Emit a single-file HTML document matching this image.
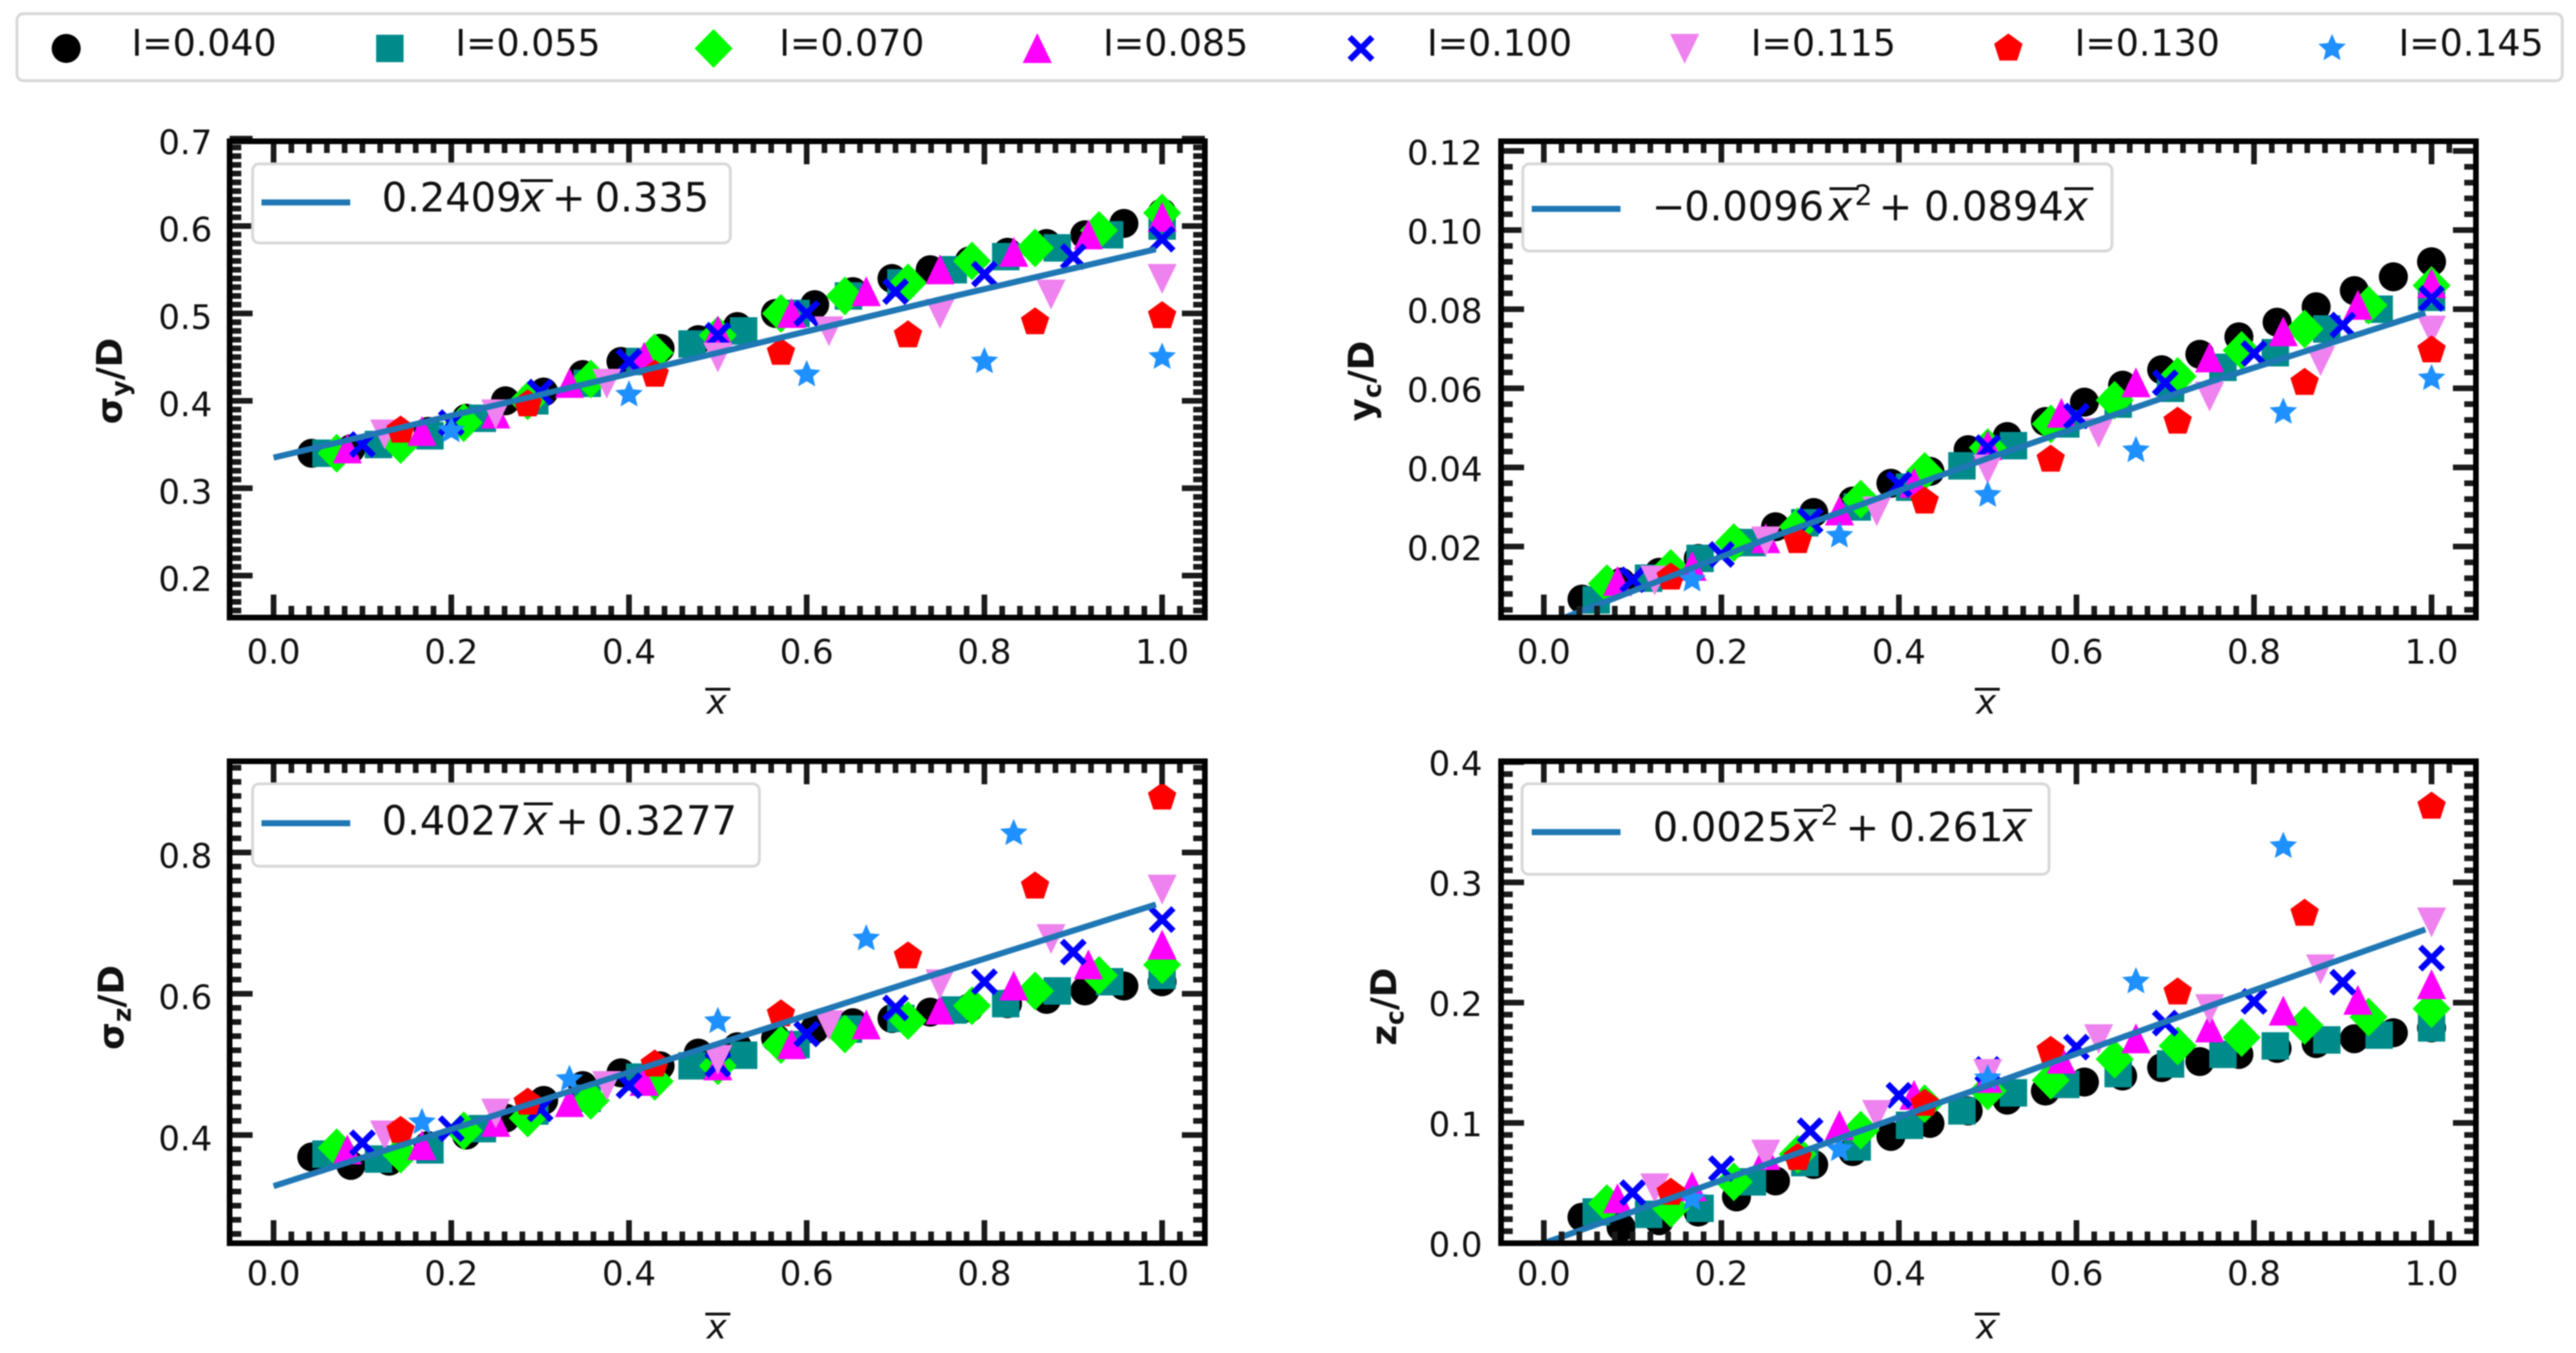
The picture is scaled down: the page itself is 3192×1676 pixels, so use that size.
<!DOCTYPE html>
<html lang="en">
<head>
<meta charset="utf-8">
<title>Wake scaling chart</title>
<style>
html,body{margin:0;padding:0;background:#fff;}
svg{display:block;filter:blur(0.8px);}
text{font-family:"DejaVu Sans","Liberation Sans",sans-serif;fill:#111;}
</style>
</head>
<body>
<svg id="chart" xmlns="http://www.w3.org/2000/svg" width="3192" height="1676" viewBox="0 0 3192 1676">
<rect x="0" y="0" width="3192" height="1676" fill="#fff"/>
<g id="plots"></g>

<g>
<rect x="21" y="17" width="3154" height="83" rx="8" fill="#fff" stroke="#d8d8d8" stroke-width="3.5"/>
<g id="topLegendEntries"></g>
</g>

<g font-size="44" font-weight="700">
<text transform="translate(151,472) rotate(-90)" text-anchor="middle" font-weight="700">σ<tspan font-size="31" dy="9">y</tspan><tspan dy="-9">/D</tspan></text>
<text transform="translate(1702,472) rotate(-90)" text-anchor="middle" font-weight="700">y<tspan font-size="31" dy="9">c</tspan><tspan dy="-9">/D</tspan></text>
<text transform="translate(153,1248) rotate(-90)" text-anchor="middle" font-weight="700">σ<tspan font-size="31" dy="9">z</tspan><tspan dy="-9">/D</tspan></text>
<text transform="translate(1730,1247) rotate(-90)" text-anchor="middle" font-weight="700">z<tspan font-size="31" dy="9">c</tspan><tspan dy="-9">/D</tspan></text>
</g>

<g font-size="42" font-style="italic">
<g><text x="888" y="884" text-anchor="middle" font-style="italic">x</text><rect x="874" y="852" width="31" height="3.5" fill="#111"/></g>
<g><text x="2461" y="884" text-anchor="middle" font-style="italic">x</text><rect x="2447" y="852" width="31" height="3.5" fill="#111"/></g>
<g><text x="888" y="1658" text-anchor="middle" font-style="italic">x</text><rect x="874" y="1626" width="31" height="3.5" fill="#111"/></g>
<g><text x="2461" y="1658" text-anchor="middle" font-style="italic">x</text><rect x="2447" y="1626" width="31" height="3.5" fill="#111"/></g>
</g>

<g font-size="49.5">
<rect x="313" y="203" width="592" height="98" rx="8" fill="#fff" stroke="#d8d8d8" stroke-width="3.5"/>
<rect x="324" y="247" width="110" height="7.5" fill="#1f77b4"/>
<text x="473" y="262">0.2409</text><text x="645" y="262" font-style="italic">x</text><rect x="645" y="222" width="40" height="3.5" fill="#111"/>
<text x="684" y="262">+</text><text x="737" y="262">0.335</text>
</g>
<g font-size="49.5">
<rect x="1887" y="203" width="730" height="108" rx="8" fill="#fff" stroke="#d8d8d8" stroke-width="3.5"/>
<rect x="1898" y="255" width="110" height="7.5" fill="#1f77b4"/>
<text x="2047" y="273">−</text><text x="2087" y="273">0.0096</text><text x="2266" y="273" font-style="italic">x</text><rect x="2267" y="232" width="36" height="3.5" fill="#111"/>
<text x="2298" y="254" font-size="35">2</text>
<text x="2328" y="273">+</text><text x="2384" y="273">0.0894</text><text x="2558" y="273" font-style="italic">x</text><rect x="2558" y="232" width="36" height="3.5" fill="#111"/>
</g>
<g font-size="49.5">
<rect x="313" y="971" width="628" height="102" rx="8" fill="#fff" stroke="#d8d8d8" stroke-width="3.5"/>
<rect x="324" y="1016" width="110" height="7.5" fill="#1f77b4"/>
<text x="473" y="1034">0.4027</text><text x="649" y="1034" font-style="italic">x</text><rect x="649" y="994" width="36" height="3.5" fill="#111"/>
<text x="688" y="1034">+</text><text x="740" y="1034">0.3277</text>
</g>
<g font-size="49.5">
<rect x="1886" y="971" width="653" height="112" rx="8" fill="#fff" stroke="#d8d8d8" stroke-width="3.5"/>
<rect x="1898" y="1027" width="110" height="7.5" fill="#1f77b4"/>
<text x="2048" y="1042">0.0025</text><text x="2223" y="1042" font-style="italic">x</text><rect x="2223" y="1002" width="36" height="3.5" fill="#111"/>
<text x="2256" y="1022" font-size="35">2</text>
<text x="2287" y="1042">+</text><text x="2341" y="1042">0.261</text><text x="2482" y="1042" font-style="italic">x</text><rect x="2482" y="1002" width="36" height="3.5" fill="#111"/>
</g>
</svg>

<script>
// Shared category labels and x positions
const legendLabels = ['I=0.040','I=0.055','I=0.070','I=0.085','I=0.100','I=0.115','I=0.130','I=0.145'];
const xCircle = [.043,.087,.13,.174,.217,.261,.304,.348,.391,.435,.478,.522,.565,.609,.652,.696,.739,.783,.826,.87,.913,.957,1];
const xSquare = [.059,.118,.176,.235,.294,.353,.412,.471,.529,.588,.647,.706,.765,.824,.882,.941,1];
const xDiamond = [.071,.143,.214,.286,.357,.429,.5,.571,.643,.714,.786,.857,.929,1];
const xTriUp = [.083,.167,.25,.333,.417,.5,.583,.667,.75,.833,.917,1];
const xCross = [.1,.2,.3,.4,.5,.6,.7,.8,.9,1];
const xTriDown = [.125,.25,.375,.5,.625,.75,.875,1];
const xPentagon = [.143,.286,.429,.571,.714,.857,1];
const xStarFifths = [.2,.4,.6,.8,1];
const xStarSixths = [.167,.333,.5,.667,.833,1];
const fitX = [0,.25,.5,.75,.993];
const xTickValues = [0,.2,.4,.6,.8,1];
const xTickLabels = ['0.0','0.2','0.4','0.6','0.8','1.0'];

// sigma_y / D
const sigmaYCircle = [.34,.345,.355,.365,.38,.40,.41,.43,.445,.46,.47,.485,.50,.51,.525,.54,.55,.56,.57,.58,.59,.603,.615];
const sigmaYSquare = [.34,.35,.36,.38,.40,.42,.445,.465,.48,.50,.52,.535,.55,.565,.575,.59,.60];
const sigmaYDiamond = [.34,.35,.375,.40,.425,.455,.475,.50,.52,.535,.56,.575,.595,.615];
const sigmaYTriUp = [.345,.365,.385,.42,.45,.48,.50,.525,.55,.57,.59,.61];
const sigmaYCross = [.35,.375,.41,.445,.475,.50,.525,.545,.565,.585];
const sigmaYTriDown = [.362,.385,.42,.45,.48,.50,.522,.54];
const sigmaYPentagon = [.366,.396,.43,.455,.475,.49,.497];
const sigmaYStar = [.366,.407,.43,.445,.45];
const sigmaYFit = [.335,.395,.455,.516,.5735];
const sigmaYTicks = [.2,.3,.4,.5,.6,.7];
const sigmaYTickLabels = ['0.2','0.3','0.4','0.5','0.6','0.7'];

// y_c / D
const ycCircle = [.0067,.011,.0135,.017,.021,.025,.0286,.0315,.036,.039,.0445,.0478,.0516,.0565,.0608,.0647,.0686,.073,.0767,.0806,.0847,.0882,.092];
const ycSquare = [.0065,.012,.017,.021,.026,.030,.035,.0404,.0455,.051,.056,.060,.0653,.069,.075,.08,.083];
const ycDiamond = [.0106,.0145,.021,.025,.032,.039,.045,.051,.057,.063,.0696,.075,.081,.086];
const ycTriUp = [.0112,.015,.022,.029,.036,.0455,.0537,.0614,.0677,.0743,.081,.0865];
const ycCross = [.0116,.018,.0265,.0357,.045,.053,.0614,.0688,.076,.0827];
const ycTriDown = [.0115,.0214,.029,.0396,.0488,.058,.067,.0747];
const ycPentagon = [.0122,.0214,.0314,.042,.0516,.0614,.0696];
const ycStar = [.0116,.0227,.033,.0443,.054,.0625];
const ycFit = [0,.0218,.0423,.0616,.0791];
const ycTicks = [.02,.04,.06,.08,.1,.12];
const ycTickLabels = ['0.02','0.04','0.06','0.08','0.10','0.12'];

// sigma_z / D
const sigmaZCircle = [.369,.357,.363,.385,.40,.424,.449,.47,.488,.498,.516,.525,.537,.55,.559,.565,.574,.58,.586,.592,.604,.611,.617];
const sigmaZSquare = [.373,.366,.379,.409,.434,.452,.482,.498,.513,.528,.55,.565,.577,.586,.604,.617,.626];
const sigmaZDiamond = [.382,.373,.406,.424,.449,.476,.498,.528,.543,.562,.583,.604,.626,.641];
const sigmaZTriUp = [.379,.385,.418,.446,.476,.498,.528,.556,.577,.611,.641,.669];
const sigmaZCross = [.389,.409,.437,.47,.5,.543,.58,.617,.659,.705];
const sigmaZTriDown = [.40,.431,.47,.507,.556,.614,.678,.748];
const sigmaZPentagon = [.406,.446,.50,.571,.653,.752,.878];
const sigmaZStar = [.418,.479,.561,.678,.827];
const sigmaZFit = [.3277,.4284,.529,.6297,.7264];
const sigmaZTicks = [.4,.6,.8];
const sigmaZTickLabels = ['0.4','0.6','0.8'];

// z_c / D
const zcCircle = [.0216,.0133,.0187,.0259,.0385,.0518,.0654,.0762,.0888,.0996,.11,.119,.1265,.134,.139,.146,.151,.157,.162,.166,.17,.175,.179];
const zcSquare = [.026,.024,.029,.051,.067,.08,.098,.11,.125,.132,.141,.149,.157,.164,.169,.173,.179];
const zcDiamond = [.033,.029,.051,.074,.094,.116,.1265,.1355,.153,.164,.171,.181,.188,.195];
const zcTriUp = [.037,.047,.073,.098,.123,.137,.153,.17,.179,.193,.202,.215];
const zcCross = [.042,.062,.0935,.123,.1445,.163,.183,.201,.217,.237];
const zcTriDown = [.046,.074,.107,.141,.17,.195,.228,.267];
const zcPentagon = [.042,.071,.116,.16,.2085,.274,.363];
const zcStar = [.037,.078,.137,.2175,.33];
const zcFit = [0,.0654,.1311,.1972,.2608];
const zcTicks = [0,.1,.2,.3,.4];
const zcTickLabels = ['0.0','0.1','0.2','0.3','0.4'];

const NS = 'http://www.w3.org/2000/svg';
const markerNames = ['circle','square','diamond','triangle-up','cross','triangle-down','pentagon','star'];
const markerColors = ['#000000','#008b8b','#00ff00','#ff00ff','#0000ff','#ee82ee','#ff0000','#1e90ff'];

const panels = [
  {name:'sigma-y', L:284.5, R:1493, T:175, B:765, x0:339, x1:1440, v0:.2, p0:713, k:-1082.5, minorStep:.01, labelRight:263, labelDy:19, xLabelY:822,
   xs:[xCircle,xSquare,xDiamond,xTriUp,xCross,xTriDown,xPentagon,xStarFifths],
   ys:[sigmaYCircle,sigmaYSquare,sigmaYDiamond,sigmaYTriUp,sigmaYCross,sigmaYTriDown,sigmaYPentagon,sigmaYStar],
   fit:sigmaYFit, ticks:sigmaYTicks, tickLabels:sigmaYTickLabels},
  {name:'yc', L:1860, R:3068, T:175, B:765, x0:1913, x1:3013, v0:.02, p0:677, k:-4900, minorStep:.004, labelRight:1837, labelDy:17, xLabelY:822,
   xs:[xCircle,xSquare,xDiamond,xTriUp,xCross,xTriDown,xPentagon,xStarSixths],
   ys:[ycCircle,ycSquare,ycDiamond,ycTriUp,ycCross,ycTriDown,ycPentagon,ycStar],
   fit:ycFit, ticks:ycTicks, tickLabels:ycTickLabels},
  {name:'sigma-z', L:284.5, R:1493, T:943, B:1540, x0:339, x1:1440, v0:.4, p0:1406, k:-875, minorStep:.02, labelRight:263, labelDy:19, xLabelY:1592,
   xs:[xCircle,xSquare,xDiamond,xTriUp,xCross,xTriDown,xPentagon,xStarSixths],
   ys:[sigmaZCircle,sigmaZSquare,sigmaZDiamond,sigmaZTriUp,sigmaZCross,sigmaZTriDown,sigmaZPentagon,sigmaZStar],
   fit:sigmaZFit, ticks:sigmaZTicks, tickLabels:sigmaZTickLabels},
  {name:'zc', L:1860, R:3068, T:943, B:1540, x0:1913, x1:3013, v0:0, p0:1540, k:-1490, minorStep:.01, labelRight:1837, labelDy:16.5, xLabelY:1592,
   xs:[xCircle,xSquare,xDiamond,xTriUp,xCross,xTriDown,xPentagon,xStarSixths],
   ys:[zcCircle,zcSquare,zcDiamond,zcTriUp,zcCross,zcTriDown,zcPentagon,zcStar],
   fit:zcFit, ticks:zcTicks, tickLabels:zcTickLabels}
];

function make(tag, attrs, parent) {
  const el = document.createElementNS(NS, tag);
  for (const key in attrs) el.setAttribute(key, attrs[key]);
  parent.appendChild(el);
  return el;
}

function regularPolygon(cx, cy, r, n, rotation) {
  const pts = [];
  for (let i = 0; i < n; i++) {
    const a = rotation + i * 2 * Math.PI / n;
    pts.push((cx + r * Math.sin(a)).toFixed(1) + ',' + (cy - r * Math.cos(a)).toFixed(1));
  }
  return pts.join(' ');
}

function starPoints(cx, cy, r) {
  const pts = [];
  for (let i = 0; i < 10; i++) {
    const a = i * Math.PI / 5;
    const rad = i % 2 === 0 ? r : r * 0.46;
    pts.push((cx + rad * Math.sin(a)).toFixed(1) + ',' + (cy - rad * Math.cos(a)).toFixed(1));
  }
  return pts.join(' ');
}

function drawMarker(kind, cx, cy, parent) {
  const c = markerColors[kind];
  let el;
  if (kind === 0) {
    el = make('circle', {cx:cx, cy:cy, r:18, fill:c}, parent);
  } else if (kind === 1) {
    el = make('rect', {x:cx-17, y:cy-17, width:34, height:34, fill:c}, parent);
  } else if (kind === 2) {
    el = make('polygon', {points:[cx+','+(cy-24), (cx+23.5)+','+cy, cx+','+(cy+24), (cx-23.5)+','+cy].join(' '), fill:c}, parent);
  } else if (kind === 3) {
    el = make('polygon', {points:[cx+','+(cy-19), (cx+18)+','+(cy+18), (cx-18)+','+(cy+18)].join(' '), fill:c}, parent);
  } else if (kind === 4) {
    el = make('path', {d:'M'+(cx-14)+' '+(cy-14)+'L'+(cx+14)+' '+(cy+14)+'M'+(cx+14)+' '+(cy-14)+'L'+(cx-14)+' '+(cy+14), stroke:c, 'stroke-width':7.5, fill:'none'}, parent);
  } else if (kind === 5) {
    el = make('polygon', {points:[(cx-18)+','+(cy-18), (cx+18)+','+(cy-18), cx+','+(cy+19)].join(' '), fill:c}, parent);
  } else if (kind === 6) {
    el = make('polygon', {points:regularPolygon(cx, cy, 18.5, 5, 0), fill:c}, parent);
  } else {
    el = make('polygon', {points:starPoints(cx, cy, 18), fill:c}, parent);
  }
  return el;
}

const plots = document.getElementById('plots');
const defs = make('defs', {}, plots);

panels.forEach(function (p, pi) {
  const xPos = function (v) { return p.x0 + v * (p.x1 - p.x0); };
  const yPos = function (v) { return p.p0 + (v - p.v0) * p.k; };

  const clip = make('clipPath', {id:'clip' + pi}, defs);
  make('rect', {x:p.L, y:p.T, width:p.R - p.L, height:p.B - p.T}, clip);

  const group = make('g', {}, plots);
  
  

  make('rect', {x:p.L, y:p.T, width:p.R - p.L, height:p.B - p.T, fill:'#fff'}, group);

  const marks = make('g', {'clip-path':'url(#clip' + pi + ')'}, group);
  
  

  p.ys.forEach(function (values, s) {
    const xs = p.xs[s];
    values.forEach(function (value, i) {
      const el = drawMarker(s, xPos(xs[i]), yPos(value), marks);
      
      
    });
  });

  const fitPts = p.fit.map(function (v, i) { return xPos(fitX[i]).toFixed(1) + ',' + yPos(v).toFixed(1); }).join(' ');
  const fitLine = make('polyline', {points:fitPts, fill:'none', stroke:'#1f77b4', 'stroke-width':7.5}, marks);
  
  

  const ticks = make('g', {stroke:'#1a1a1a', 'stroke-width':7, fill:'none'}, group);
  
  

  const MAJ = 28.5, MIN = 14.5;
  function vTick(v, len) {
    const x = xPos(v);
    make('path', {d:'M'+x+' '+p.B+'V'+(p.B-len)+'M'+x+' '+p.T+'V'+(p.T+len)}, ticks);
  }
  function hTick(v, len) {
    const y = yPos(v);
    make('path', {d:'M'+p.L+' '+y+'H'+(p.L+len)+'M'+p.R+' '+y+'H'+(p.R-len)}, ticks);
  }
  xTickValues.forEach(function (v) { vTick(v, MAJ); });
  for (let k = 1; k <= 51; k++) { if (k % 10 !== 0) vTick(k * 0.02, MIN); }

  p.ticks.forEach(function (v) { hTick(v, MAJ); });
  const lo = p.v0 + (p.B - p.p0) / p.k;
  const hi = p.v0 + (p.T - p.p0) / p.k;
  for (let k = Math.ceil(lo / p.minorStep); k * p.minorStep < hi; k++) {
    const v = k * p.minorStep;
    const isMajor = p.ticks.some(function (t) { return Math.abs(t - v) < p.minorStep / 10; });
    if (!isMajor) hTick(v, MIN);
  }

  const frame = make('rect', {x:p.L, y:p.T, width:p.R - p.L, height:p.B - p.T, fill:'none', stroke:'#000', 'stroke-width':7}, group);
  
  

  xTickLabels.forEach(function (label, i) {
    const t = make('text', {x:xPos(xTickValues[i]), y:p.xLabelY, 'text-anchor':'middle', 'font-size':42}, group);
    t.textContent = label;
    
    
  });
  p.tickLabels.forEach(function (label, i) {
    const t = make('text', {x:p.labelRight, y:yPos(p.ticks[i]) + p.labelDy, 'text-anchor':'end', 'font-size':42}, group);
    t.textContent = label;
    
    
  });
});

const legendGroup = document.getElementById('topLegendEntries');
legendLabels.forEach(function (label, i) {
  const entry = make('g', {}, legendGroup);
  
  
  const mx = 82 + i * 401.1;
  drawMarker(i, mx, 60, entry);
  const t = make('text', {x:163 + i * 401.3, y:69, 'font-size':45}, entry);
  t.textContent = label;
  
  
});
</script>
</body>
</html>
